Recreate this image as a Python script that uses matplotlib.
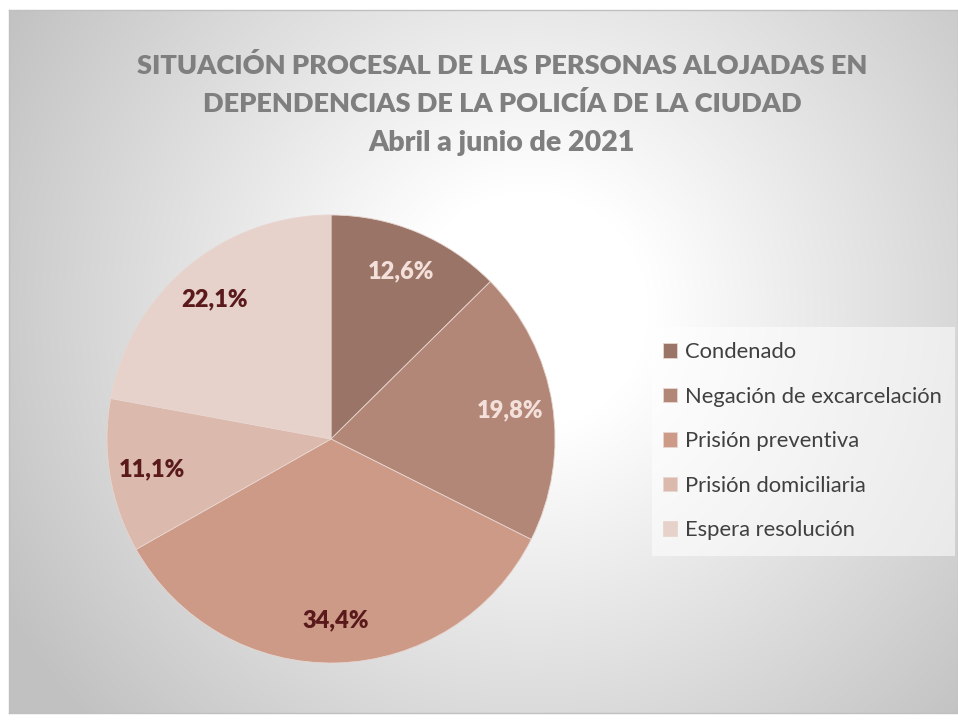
import matplotlib.pyplot as plt
import numpy as np
from matplotlib.patches import Rectangle

categorias = ['Condenado', 'Negación de excarcelación', 'Prisión preventiva',
              'Prisión domiciliaria', 'Espera resolución']
porcentajes = [12.6, 19.8, 34.4, 11.1, 22.1]
colores = ['#9A7466', '#B28777', '#CC9A87', '#DBB9AD', '#E6D1CB']
color_etiqueta = ['#F4E0DA', '#F4E0DA', '#5A1A1C', '#5A1A1C', '#5A1A1C']

plt.rcParams['font.family'] = ['Lato', 'DejaVu Sans']

W, H = 958, 724
fig = plt.figure(figsize=(W / 100, H / 100), dpi=100)

# fondo con degradado radial (blanco al centro, gris hacia los bordes)
bg = fig.add_axes([9 / W, 1 - 713 / H, 949 / W, 703 / H])
yy, xx = np.mgrid[0:703, 0:949]
d = np.hypot(xx - 520, yy - 300)
t = np.clip((d - 120) / 480, 0, 1)
g = 1 - t * (1 - 0.76)
bg.imshow(np.dstack([g, g, g]), aspect='auto', extent=[0, 1, 0, 1], origin='upper')
bg.set_xlim(0, 1)
bg.set_ylim(0, 1)
for s in bg.spines.values():
    s.set_color('#C0C0C0')
    s.set_linewidth(1)
bg.set_xticks([])
bg.set_yticks([])

# titulo
tit = dict(ha='center', va='center', fontsize=19.5, fontweight='heavy', color='#7F7F7F')
fig.text(0.524, 1 - 65 / H, 'SITUACIÓN PROCESAL DE LAS PERSONAS ALOJADAS EN', **tit)
fig.text(0.524, 1 - 104 / H, 'DEPENDENCIAS DE LA POLICÍA DE LA CIUDAD', **tit)
fig.text(0.524, 1 - 143 / H, 'Abril a junio de 2021', **dict(tit, fontsize=20.5))

# torta
cx, cy, r = 331, 439, 224
ax = fig.add_axes([(cx - r) / W, (H - cy - r) / H, 2 * r / W, 2 * r / H])
wedges, _, autotexts = ax.pie(porcentajes, colors=colores, startangle=90, counterclock=False,
                              radius=1, pctdistance=0.81,
                              autopct=lambda p: ('%.1f%%' % p).replace('.', ','),
                              wedgeprops=dict(linewidth=0.6, edgecolor='#E8D6D0'))
for txt, c in zip(autotexts, color_etiqueta):
    txt.set_color(c)
    txt.set_fontsize(17)
    txt.set_fontweight('heavy')
ax.set_xlim(-1, 1)
ax.set_ylim(-1, 1)
ax.set_aspect('equal')
ax.axis('off')

# leyenda
fig.patches.append(Rectangle((652 / W, 1 - 556 / H), 303 / W, 229 / H,
                             transform=fig.transFigure, facecolor='white', alpha=0.55,
                             edgecolor='none', zorder=1))
leg = fig.legend(wedges, categorias, loc='upper left', bbox_to_anchor=(663 / W, 1 - 342 / H),
                 frameon=False, fontsize=15.8, labelcolor='#404040',
                 handlelength=0.65, handleheight=0.65, handletextpad=0.35,
                 labelspacing=1.12, borderaxespad=0, borderpad=0)

fig.savefig('out.png', dpi=100)
